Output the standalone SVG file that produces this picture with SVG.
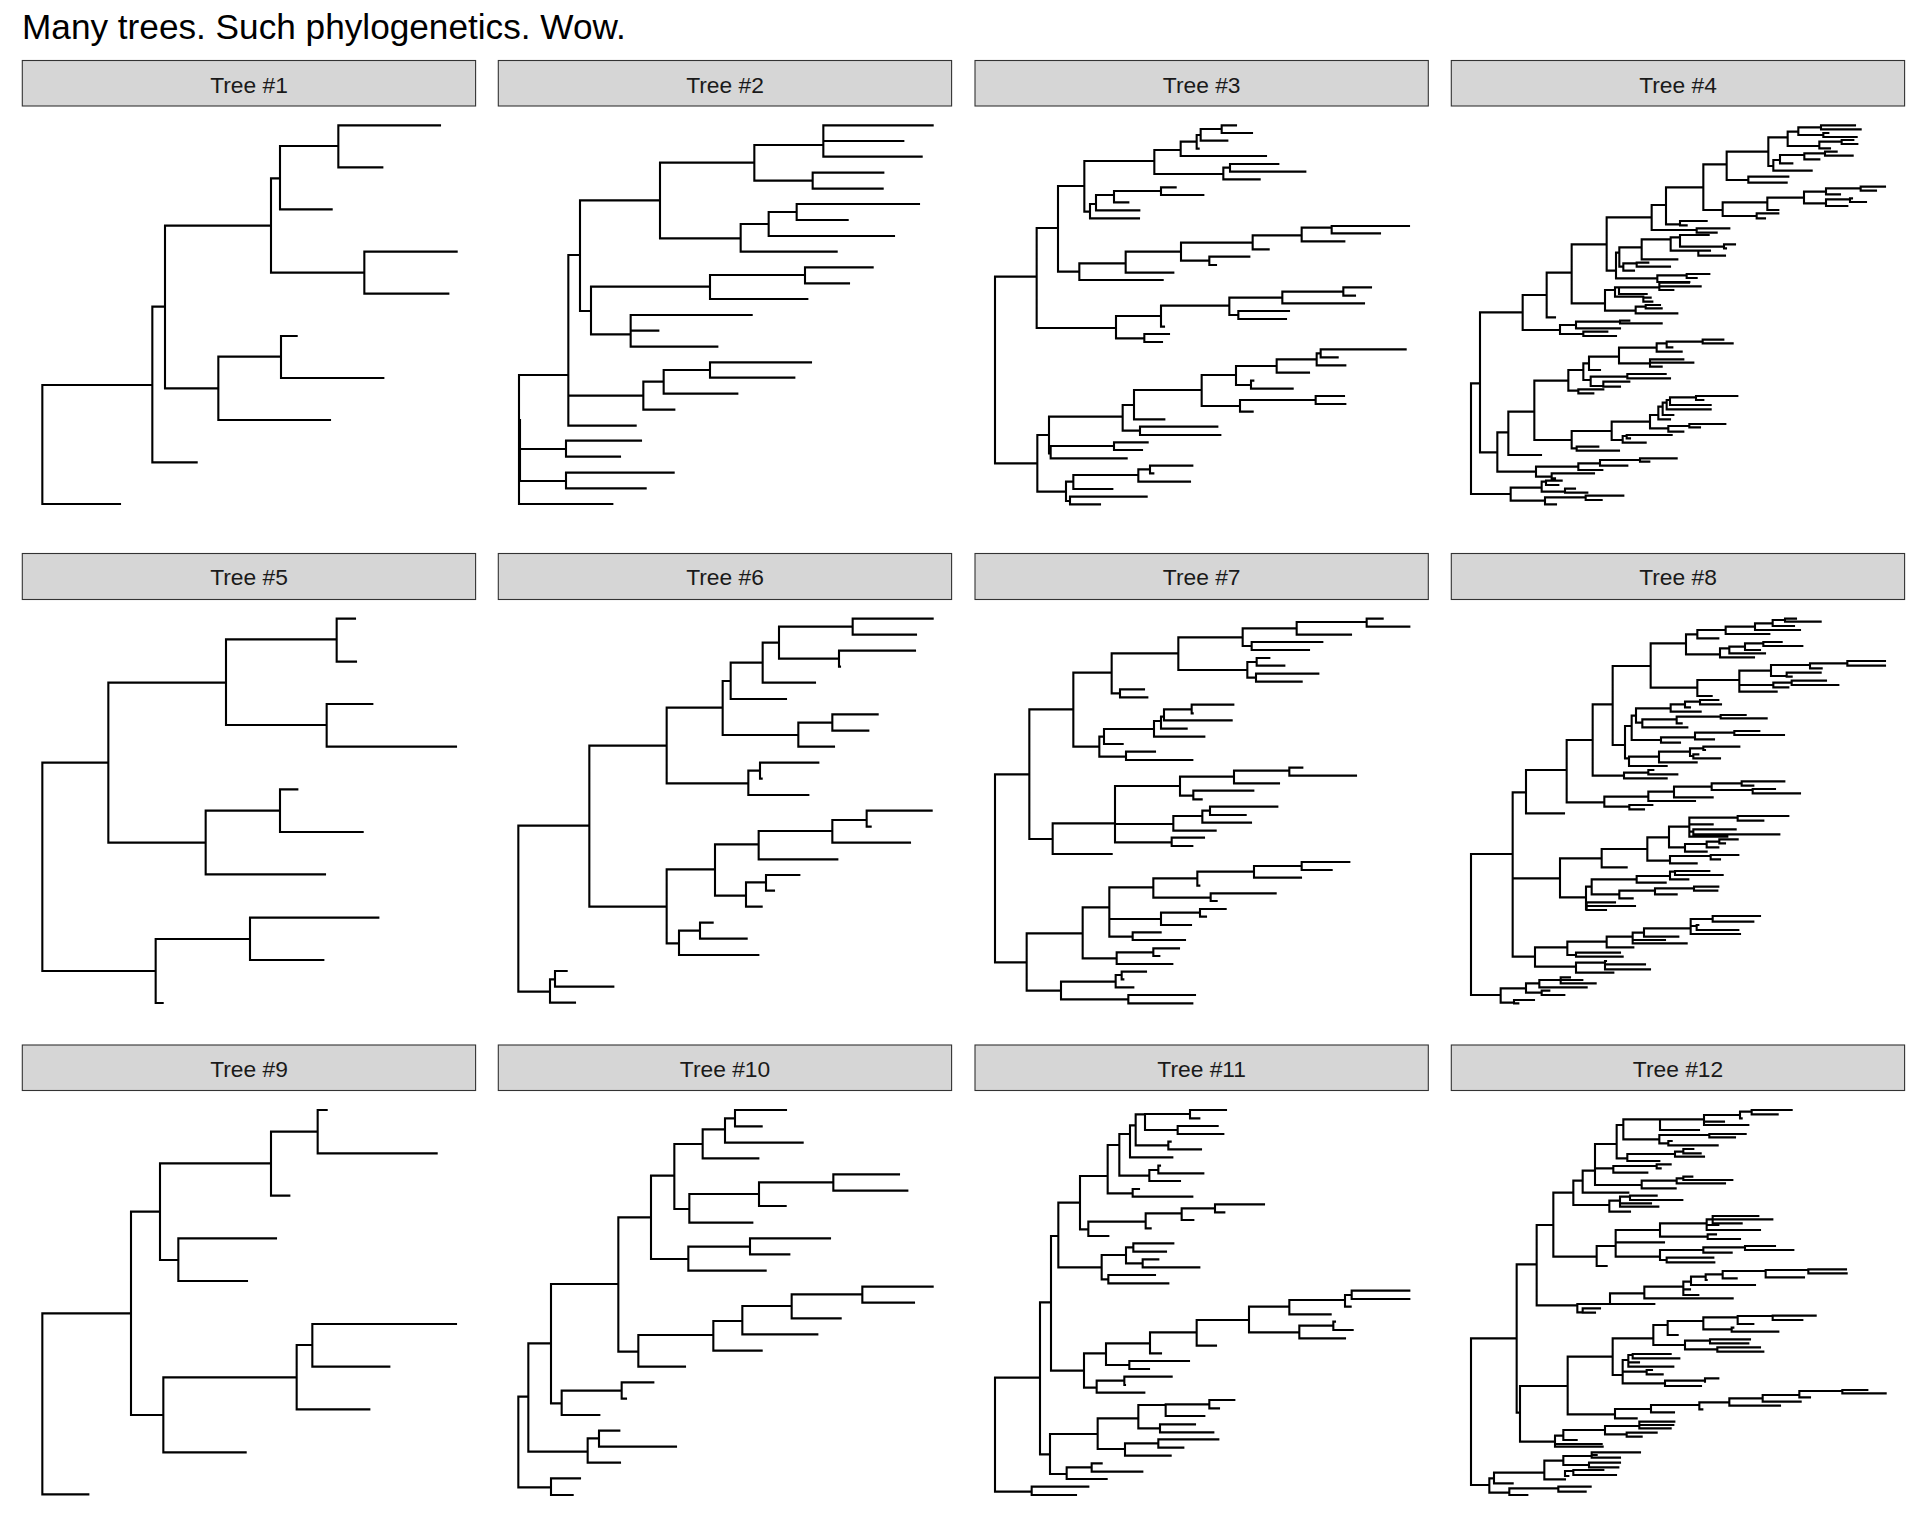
<svg xmlns="http://www.w3.org/2000/svg" width="1920" height="1536" viewBox="0 0 1920 1536">
<style>
.strip rect{fill:#d6d6d6;stroke:#333333;stroke-width:1.1}
.strip text{font-family:"Liberation Sans",Arial,sans-serif;font-size:22.8px;fill:#1a1a1a;text-anchor:middle}
.br{fill:none;stroke:#000;stroke-width:6.3;stroke-linecap:square}
.title{font-family:"Liberation Sans",Arial,sans-serif;font-size:35.2px;fill:#000}
</style>
<rect width="1920" height="1536" fill="#fff"/>
<text class="title" x="22" y="39">Many trees. Such phylogenetics. Wow.</text>

<g id="panel1">
<g class="strip"><rect x="22.3" y="60.5" width="453.3" height="45.5"/><text x="249" y="92.7">Tree #1</text></g>
<g transform="translate(0,0) scale(0.333333)"><path class="br" d="M127 1155V1512M127 1512H360M127 1155H457M457 920V1387M457 1387H590M457 920H495M495 677V1165M495 1165H655M495 677H813M655 1070V1260M655 1260H990M655 1070H843M843 1008V1134M843 1008H890M843 1134H1150M813 535V818M813 535H840M813 818H1093M1093 755V881M1093 755H1370M1093 881H1345M840 438V628M840 628H995M840 438H1015M1015 376V502M1015 376H1320M1015 502H1147"/></g>
</g>

<g id="panel2">
<g class="strip"><rect x="498.3" y="60.5" width="453.3" height="45.5"/><text x="725" y="92.7">Tree #2</text></g>
<g transform="translate(480,0) scale(0.333333)"><path class="br" d="M117 1125V1512M117 1125H265M117 1512H397M120 1260V1443M120 1347H258M120 1443H258M258 1322V1370M258 1322H483M258 1370H420M258 1418V1465M258 1418H581M258 1465H497M265 765V1277M265 1277H467M265 1187H490M265 765H300M490 1145V1229M490 1229H583M490 1145H551M551 1110V1181M551 1181H772M551 1110H690M690 1087V1133M690 1087H993M690 1133H943M300 601V933M300 933H333M300 601H540M333 860V1003M333 860H690M333 1003H452M452 945V1040M452 945H815M452 992H535M452 1040H712M690 825V897M690 825H975M690 897H982M975 802V850M975 802H1178M975 850H1107M540 488V715M540 488H823M540 715H782M782 672V755M782 755H1070M782 672H866M866 636V708M866 708H1242M866 636H950M950 612V660M950 612H1317M950 660H1103M823 435V542M823 542H998M823 435H1030M998 518V566M998 518H1210M998 566H1208M1030 376V470M1030 376H1358M1030 423H1270M1030 470H1325"/></g>
</g>

<g id="panel3">
<g class="strip"><rect x="975" y="60.5" width="453.3" height="45.5"/><text x="1201.7" y="92.7">Tree #3</text></g>
<g transform="translate(960,0) scale(0.333333)"><path class="br" d="M105 830V1390M105 830H230M105 1390H232M230 684V984M230 684H294M230 984H468M294 558V815M294 558H373M294 815H358M373 483V635M373 483H583M373 635H390M583 450V522M583 450H662M583 522H790M662 425V468M662 468H918M662 425H710M710 405V446M710 446H716M710 405H722M722 387V422M722 387H785M722 422H802M785 376V399M785 376H828M785 399H876M790 503V538M790 538H899M790 503H810M810 492V515M810 492H955M810 515H1036M390 612V655M390 655H537M390 612H408M408 585V631M408 631H538M408 585H462M462 573V607M462 607H505M462 573H603M603 562V585M603 562H647M603 585H730M358 790V840M358 840H608M358 790H497M497 755V818M497 818H640M497 755H663M663 728V782M663 782H748M663 728H878M748 770V795M748 770H868M748 795H768M878 706V748M878 748H926M878 706H1025M1025 683V724M1025 724H1153M1025 683H1115M1115 678V700M1115 678H1347M1115 700H1260M468 948V1015M468 948H603M468 1015H553M553 1002V1026M553 1002H627M553 1026H606M603 917V980M603 980H612M603 917H808M808 893V945M808 893H967M808 945H835M835 933V957M835 933H987M835 957H978M967 875V910M967 910H1212M967 875H1150M1150 862V887M1150 862H1233M1150 887H1185M232 1305V1475M232 1305H267M232 1475H318M267 1250V1360M267 1250H488M267 1360H272M272 1338V1375M272 1375H500M272 1338H462M462 1327V1350M462 1327H563M462 1350H546M488 1215V1292M488 1215H522M488 1292H540M540 1280V1305M540 1280H772M540 1305H781M522 1170V1258M522 1258H613M522 1170H725M725 1125V1218M725 1125H828M725 1218H840M840 1200V1235M840 1235H878M840 1200H1067M1067 1188V1212M1067 1188H1152M1067 1212H1156M828 1098V1155M828 1098H950M828 1155H873M873 1142V1166M873 1166H998M873 1142H880M950 1078V1118M950 1118H1047M950 1078H1070M1070 1060V1096M1070 1096H1156M1070 1060H1082M1082 1048V1072M1082 1048H1337M1082 1072H1133M318 1445V1503M318 1445H340M318 1503H330M340 1425V1467M340 1467H457M340 1425H535M535 1408V1445M535 1445H690M535 1408H570M570 1397V1420M570 1397H697M570 1420H580M330 1490V1513M330 1490H560M330 1513H420"/></g>
</g>

<g id="panel4">
<g class="strip"><rect x="1451.3" y="60.5" width="453.3" height="45.5"/><text x="1678" y="92.7">Tree #4</text></g>
<g transform="translate(1440,0) scale(0.333333)"><path class="br" d="M93 1150V1482M93 1150H120M93 1482H212M120 937V1357M120 937H248M120 1357H172M248 885V990M248 885H320M248 990H360M320 818V952M320 952H345M320 818H395M395 733V910M395 733H500M395 910H495M500 652V812M500 652H635M500 812H528M635 615V690M635 615H678M635 690H770M770 685V698M770 685H868M770 698H830M678 562V673M678 562H790M678 673H720M720 663V676M720 663H800M720 676H740M790 493V630M790 493H860M790 630H848M848 607V648M848 648H950M848 607H982M982 593V630M982 630H1015M982 593H1092M1092 575V610M1092 575H1158M1092 610H1158M1158 565V583M1158 565H1262M1158 583H1200M1262 560V572M1262 560H1335M1262 572H1308M1158 598V618M1158 598H1230M1158 618H1222M1230 595V606M1230 595H1236M1230 606H1278M950 640V655M950 640H1015M950 655H975M860 455V540M860 455H985M860 540H925M925 530V548M925 530H1045M925 548H1040M985 412V498M985 412H1043M985 498H1000M1043 395V438M1043 395H1075M1043 438H1138M1075 382V405M1075 382H1143M1075 405H1150M1143 376V388M1143 376H1245M1143 388H1262M1150 399V411M1150 399H1165M1150 411H1250M1138 425V445M1138 425H1205M1138 445H1170M1205 420V432M1205 420H1240M1205 432H1252M1000 480V512M1000 480H1020M1000 512H1115M1020 465V490M1020 465H1093M1020 490H1057M1093 460V478M1093 460H1155M1093 478H1138M1155 455V467M1155 455H1190M1155 467H1238M528 758V835M528 758H538M528 835H652M652 826V846M652 826H740M652 846H748M740 822V834M740 822H808M740 834H770M538 742V800M538 742H605M538 800H550M550 790V812M550 790H590M550 812H582M590 788V800M590 788H625M590 800H690M605 718V778M605 778H712M605 718H692M692 712V752M692 712H720M692 752H775M720 705V740M720 705H806M720 740H852M852 733V745M852 733H885M852 745H858M775 752V767M775 752H810M775 767H855M495 870V932M495 870H525M495 932H587M525 862V890M525 862H537M525 890H610M537 862V882M537 862H658M537 882H620M658 848V870M658 848H747M658 859H782M658 870H700M610 893V905M610 893H632M610 905H637M587 920V940M587 920H617M587 940H712M617 915V925M617 915H660M617 925H665M360 975V1002M360 975H408M360 1002H430M408 965V985M408 965H540M408 985H540M540 962V970M540 962H568M540 970H665M430 995V1008M430 995H502M430 1008H528M172 1297V1415M172 1297H205M172 1415H288M205 1235V1365M205 1365H303M205 1235H283M283 1142V1320M283 1142H385M283 1320H395M385 1110V1172M385 1110H430M385 1172H415M415 1168V1180M415 1168H490M415 1180H460M430 1090V1140M430 1090H447M430 1140H452M452 1130V1158M452 1130H562M452 1158H490M562 1122V1135M562 1122H677M562 1135H690M490 1145V1160M490 1145H568M490 1160H540M447 1070V1110M447 1110H480M447 1070H537M537 1043V1090M537 1043H650M537 1090H630M650 1030V1055M650 1030H680M650 1055H725M680 1025V1042M680 1025H788M680 1042H697M788 1019V1030M788 1019H850M788 1030H878M630 1078V1100M630 1078H730M630 1088H760M630 1100H665M395 1293V1345M395 1293H515M395 1345H410M410 1340V1352M410 1340H475M410 1352H537M515 1265V1320M515 1265H630M515 1320H548M548 1308V1328M548 1308H560M548 1328H617M560 1305V1315M560 1305H695M560 1315H570M630 1245V1285M630 1245H655M630 1285H685M685 1278V1295M685 1278H748M685 1295H730M748 1272V1282M748 1272H856M748 1282H780M655 1220V1258M655 1258H690M655 1220H668M668 1208V1245M668 1245H700M668 1208H680M680 1200V1228M680 1200H690M680 1228H812M690 1192V1215M690 1192H768M690 1215H812M768 1188V1200M768 1188H892M768 1200H790M288 1400V1430M288 1400H415M288 1430H335M415 1390V1410M415 1390H480M415 1410H487M480 1380V1397M480 1380H600M480 1397H562M600 1375V1385M600 1375H710M600 1385H628M335 1420V1435M335 1420H462M335 1435H345M212 1463V1502M212 1463H305M212 1502H315M305 1445V1475M305 1445H318M305 1475H375M318 1442V1455M318 1442H365M318 1455H355M375 1466V1478M375 1466H405M375 1478H442M315 1492V1513M315 1492H437M315 1513H348M437 1487V1500M437 1487H550M437 1500H485"/></g>
</g>

<g id="panel5">
<g class="strip"><rect x="22.3" y="553.5" width="453.3" height="46"/><text x="249" y="584.5">Tree #5</text></g>
<g transform="translate(0,540) scale(0.333333)"><path class="br" d="M127 668V1293M127 668H325M127 1293H467M325 428V908M325 428H678M325 908H617M678 298V555M678 298H1010M678 555H980M1010 236V365M1010 236H1065M1010 365H1068M980 492V620M980 492H1117M980 620H1368M617 812V1003M617 812H840M617 1003H975M840 748V876M840 748H892M840 876H1088M467 1197V1389M467 1197H750M467 1389H488M750 1133V1260M750 1133H1135M750 1260H970"/></g>
</g>

<g id="panel6">
<g class="strip"><rect x="498.3" y="553.5" width="453.3" height="46"/><text x="725" y="584.5">Tree #6</text></g>
<g transform="translate(480,540) scale(0.333333)"><path class="br" d="M115 857V1355M115 857H328M115 1355H210M210 1318V1388M210 1388H285M210 1318H225M225 1293V1340M225 1293H260M225 1340H400M328 617V1100M328 617H560M328 1100H560M560 503V730M560 503H728M560 730H805M805 692V765M805 765H985M805 692H840M840 668V716M840 668H1015M840 716H845M728 423V585M728 423H752M728 585H955M955 548V620M955 620H1062M955 548H1057M1057 523V572M1057 523H1193M1057 572H1165M752 368V477M752 477H918M752 368H848M848 308V428M848 428H1005M848 308H897M897 260V356M897 260H1118M897 356H1077M1118 236V284M1118 236H1358M1118 284H1308M1077 332V380M1077 332H1305M1077 380H1080M560 988V1210M560 988H705M560 1210H597M597 1172V1245M597 1245H835M597 1172H660M660 1148V1196M660 1148H698M660 1196H800M705 913V1067M705 913H836M705 1067H798M798 1027V1100M798 1100H845M798 1027H858M858 1005V1052M858 1005H958M858 1052H882M836 873V958M836 958H1072M836 873H1057M1057 840V908M1057 908H1290M1057 840H1160M1160 812V860M1160 812H1355M1160 860H1172"/></g>
</g>

<g id="panel7">
<g class="strip"><rect x="975" y="553.5" width="453.3" height="46"/><text x="1201.7" y="584.5">Tree #7</text></g>
<g transform="translate(960,540) scale(0.333333)"><path class="br" d="M105 703V1267M105 703H208M105 1267H200M208 508V897M208 508H340M208 897H278M278 850V942M278 942H455M278 850H465M465 738V907M465 738H660M465 852H640M465 907H635M635 893V918M635 893H732M635 918H697M640 828V872M640 872H767M640 828H727M727 812V848M727 848H873M727 812H750M750 800V825M750 800H952M750 825H857M660 710V767M660 710H822M660 767H700M700 752V778M700 752H880M700 778H725M822 692V730M822 730H957M822 692H988M988 683V707M988 683H1027M988 707H1188M340 398V620M340 398H455M340 620H418M418 590V650M418 650H498M418 590H432M498 635V660M498 635H585M498 660H697M432 567V612M432 612H488M432 567H582M582 543V590M582 590H733M582 543H603M603 530V566M603 566H680M603 530H612M612 508V541M612 541H815M612 508H695M695 494V520M695 494H820M695 520H698M455 340V460M455 340H655M455 460H480M480 448V472M480 448H552M480 472H562M655 292V390M655 292H848M655 390H862M862 366V413M862 366H890M862 413H888M890 354V377M890 354H928M890 377H973M888 401V425M888 401H1075M888 425H1025M848 265V318M848 265H1010M848 318H875M875 306V330M875 306H1087M875 330H1047M1010 246V284M1010 284H1173M1010 246H1220M1220 236V260M1220 236H1268M1220 260H1348M200 1180V1352M200 1180H368M200 1352H303M303 1325V1378M303 1325H467M303 1378H505M505 1365V1390M505 1365H705M505 1390H697M467 1305V1342M467 1342H520M467 1305H485M485 1295V1318M485 1295H558M485 1318H490M368 1102V1255M368 1102H448M368 1255H470M470 1237V1272M470 1272H637M470 1237H580M580 1225V1248M580 1225H657M580 1248H598M448 1042V1190M448 1042H580M448 1137H603M448 1190H518M518 1177V1200M518 1177H602M518 1200H675M603 1118V1155M603 1155H693M603 1118H720M720 1107V1130M720 1107H797M720 1130H738M580 1015V1073M580 1015H712M580 1073H752M752 1060V1083M752 1060H947M752 1083H770M712 995V1037M712 1037H718M712 995H882M882 978V1013M882 1013H1023M882 978H1025M1025 966V990M1025 966H1168M1025 990H1115"/></g>
</g>

<g id="panel8">
<g class="strip"><rect x="1451.3" y="553.5" width="453.3" height="46"/><text x="1678" y="584.5">Tree #8</text></g>
<g transform="translate(1440,540) scale(0.333333)"><path class="br" d="M93 942V1365M93 942H218M93 1365H182M218 757V1250M218 757H258M218 1015H360M218 1250H285M258 690V820M258 820H372M258 690H380M380 600V787M380 600H458M380 787H493M493 770V800M493 800H568M493 770H625M568 795V808M568 795H637M568 808H612M625 755V783M625 783H765M625 755H702M702 740V772M702 772H818M702 740H815M815 730V750M815 730H905M815 750H938M905 724V737M905 724H1033M905 737H940M938 747V760M938 747H1005M938 760H1080M458 493V707M458 493H518M458 707H552M552 698V715M552 698H625M552 715H680M625 690V703M625 690H640M625 703H712M518 378V615M518 378H632M518 615H555M632 310V443M632 310H738M632 443H772M738 283V343M738 283H772M738 343H840M772 270V295M772 295H835M772 270H857M857 260V282M857 260H945M857 282H988M945 250V270M945 250H998M945 270H1080M998 240V258M998 240H1035M998 258H1062M1035 236V245M1035 236H1068M1035 245H1142M840 325V352M840 352H942M840 325H868M868 320V340M868 320H915M868 340H975M915 310V330M915 310H970M915 330H960M970 306V318M970 306H1025M970 318H1087M772 420V468M772 468H815M772 420H898M898 392V455M898 392H993M898 435H1000M898 455H1010M1000 428V442M1000 428H1055M1000 442H1045M1055 422V435M1055 422H1158M1055 435H1195M993 375V408M993 375H1110M993 408H1040M1110 370V385M1110 370H1222M1110 385H1145M1222 363V377M1222 363H1335M1222 377H1335M1040 398V410M1040 398H1142M1040 410H1055M555 558V655M555 558H575M555 655H567M567 650V678M567 678H680M567 650H657M657 635V667M657 667H770M657 635H750M750 625V648M750 625H790M750 648H760M790 620V630M790 620H898M790 630H795M760 643V655M760 643H775M760 655H840M575 527V600M575 600H663M575 527H588M663 592V608M663 608H720M663 592H765M765 578V598M765 598H822M765 578H883M883 573V585M883 573H958M883 585H1032M588 505V548M588 505H692M588 548H607M607 538V562M607 562H742M607 538H710M710 530V550M710 530H842M710 550H725M842 525V535M842 525H917M842 535H980M692 493V515M692 515H782M692 493H735M735 485V502M735 485H780M735 502H750M780 480V493M780 480H835M780 493H843M360 955V1072M360 955H485M360 1072H438M485 927V982M485 982H560M485 927H622M622 892V962M622 892H687M622 962H690M690 948V970M690 970H770M690 948H812M812 945V958M812 945H895M812 958H840M687 860V922M687 860H748M687 922H735M735 912V935M735 935H800M735 912H800M800 905V922M800 905H838M800 922H835M838 898V910M838 898H893M838 910H855M748 833V890M748 833H893M748 853H818M748 875H760M748 890H862M893 828V842M893 828H1045M893 842H970M760 868V883M760 868H887M760 883H1018M438 1040V1108M438 1040H455M438 1108H440M440 1087V1110M440 1087H525M440 1098H585M440 1110H498M455 1018V1063M455 1018H590M455 1063H538M538 1052V1075M538 1075H578M538 1052H645M645 1045V1063M645 1045H762M645 1063H710M762 1040V1052M762 1040H835M762 1052H832M590 1008V1028M590 1028H677M590 1008H690M690 995V1018M690 995H705M690 1018H745M705 993V1005M705 993H808M705 1005H848M285 1222V1280M285 1222H382M285 1280H408M382 1205V1245M382 1245H408M382 1205H500M408 1238V1250M408 1238H540M408 1250H548M500 1190V1222M500 1222H580M500 1190H578M578 1178V1210M578 1178H612M578 1200H675M578 1210H740M612 1165V1190M612 1165H752M612 1190H715M752 1137V1182M752 1137H818M752 1158H770M752 1182H900M818 1128V1145M818 1128H960M818 1145H940M770 1155V1170M770 1155H775M770 1170H895M408 1268V1298M408 1268H495M408 1298H520M495 1263V1288M495 1263H498M495 1273H615M495 1288H630M182 1345V1388M182 1345H258M182 1388H222M222 1380V1390M222 1380H282M222 1390H235M258 1330V1358M258 1330H298M258 1358H305M305 1352V1365M305 1352H328M305 1365H373M298 1320V1342M298 1320H362M298 1342H440M362 1312V1330M362 1312H390M362 1320H427M362 1330H467"/></g>
</g>

<g id="panel9">
<g class="strip"><rect x="22.3" y="1045" width="453.3" height="45.5"/><text x="249" y="1076.7">Tree #9</text></g>
<g transform="translate(0,1030) scale(0.333333)"><path class="br" d="M127 850V1393M127 850H393M127 1393H265M393 545V1155M393 545H480M393 1155H490M480 400V690M480 400H813M480 690H535M535 625V753M535 625H828M535 753H741M813 305V497M813 305H953M813 497H868M953 240V370M953 240H980M953 370H1310M490 1042V1267M490 1042H890M490 1267H737M890 945V1138M890 945H937M890 1138H1108M937 882V1010M937 882H1368M937 1010H1168"/></g>
</g>

<g id="panel10">
<g class="strip"><rect x="498.3" y="1045" width="453.3" height="45.5"/><text x="725" y="1076.7">Tree #10</text></g>
<g transform="translate(480,1030) scale(0.333333)"><path class="br" d="M115 1100V1372M115 1100H145M115 1372H213M213 1345V1395M213 1345H300M213 1395H278M145 940V1265M145 940H213M145 1265H323M323 1225V1298M323 1298H420M323 1225H357M357 1202V1250M357 1202H418M357 1250H588M213 762V1120M213 762H415M213 1120H245M245 1082V1155M245 1155H358M245 1082H425M425 1057V1106M425 1057H520M425 1106H438M415 562V965M415 562H513M415 965H475M475 915V1010M475 1010H615M475 915H700M700 873V962M700 962H845M700 873H787M787 828V913M787 913H1012M787 828H935M935 793V865M935 865H1082M935 793H1147M1147 770V818M1147 770H1358M1147 818H1302M513 437V687M513 437H583M513 687H625M625 650V722M625 722H857M625 650H810M810 625V673M810 625H1050M810 673H928M583 342V537M583 342H668M583 537H628M628 492V578M628 578H817M628 492H837M837 457V528M837 528H917M837 457H1060M1060 433V482M1060 433H1257M1060 482H1282M668 298V385M668 385H835M668 298H735M735 265V338M735 338H968M735 265H765M765 240V289M765 240H918M765 289H845"/></g>
</g>

<g id="panel11">
<g class="strip"><rect x="975" y="1045" width="453.3" height="45.5"/><text x="1201.7" y="1076.7">Tree #11</text></g>
<g transform="translate(960,1030) scale(0.333333)"><path class="br" d="M105 1043V1385M105 1043H240M105 1385H215M215 1370V1395M215 1370H385M215 1395H348M240 817V1273M240 817H273M240 1273H270M270 1212V1332M270 1212H413M270 1332H320M320 1312V1347M320 1347H440M320 1312H395M395 1300V1325M395 1300H425M395 1325H547M413 1165V1257M413 1165H535M413 1257H495M495 1240V1277M495 1277H632M495 1240H595M595 1228V1253M595 1228H775M595 1253H670M535 1125V1195M535 1125H617M535 1195H600M600 1183V1207M600 1183H705M600 1207H760M617 1123V1158M617 1158H733M617 1123H748M748 1110V1135M748 1110H823M748 1135H777M273 618V1022M273 618H295M273 1022H372M372 970V1073M372 970H438M372 1073H410M410 1052V1088M410 1088H553M410 1052H493M493 1040V1065M493 1040H635M493 1065H495M438 940V1005M438 940H570M438 1005H508M508 993V1017M508 993H687M508 1017H567M570 907V970M570 970H603M570 907H710M710 870V947M710 947H768M710 870H867M867 830V907M867 830H988M867 907H1018M1018 887V925M1018 925H1155M1018 887H1120M1120 875V900M1120 875H1125M1120 900H1178M988 810V853M988 853H1112M988 810H1155M1155 795V830M1155 830H1172M1155 795H1175M1175 782V807M1175 782H1348M1175 807H1348M295 518V712M295 518H360M295 712H425M425 675V748M425 675H498M425 748H445M445 735V760M445 735H585M445 760H625M498 652V700M498 652H520M498 700H548M520 640V665M520 640H640M520 665H618M548 688V712M548 688H595M548 712H718M360 438V598M360 438H443M360 598H385M385 575V618M385 618H445M385 575H557M557 550V595M557 595H572M557 550H665M665 535V570M665 570H700M665 535H765M765 523V547M765 523H912M765 547H793M443 345V490M443 345H478M443 490H518M518 477V500M518 477H537M518 500H697M478 312V437M478 312H510M478 437H568M568 420V453M568 453H660M568 420H595M595 407V430M595 407H600M595 430H730M510 286V382M510 286H527M510 382H637M527 253V346M527 253H555M527 346H625M625 335V358M625 335H632M625 358H723M555 252V300M555 252H690M555 300H653M653 288V312M653 288H773M653 312H790M690 240V265M690 240H798M690 265H718"/></g>
</g>

<g id="panel12">
<g class="strip"><rect x="1451.3" y="1045" width="453.3" height="45.5"/><text x="1678" y="1076.7">Tree #12</text></g>
<g transform="translate(1440,1030) scale(0.333333)"><path class="br" d="M93 925V1365M93 925H230M93 1365H148M148 1345V1388M148 1345H162M148 1388H208M162 1328V1360M162 1360H218M162 1328H313M313 1292V1348M313 1292H370M313 1348H375M370 1278V1305M370 1278H455M370 1305H447M455 1267V1283M455 1267H600M455 1275H470M455 1283H540M447 1298V1312M447 1298H540M447 1312H535M375 1323V1338M375 1323H400M375 1338H385M400 1320V1335M400 1320H490M400 1335H528M208 1375V1395M208 1395H262M208 1375H355M355 1370V1385M355 1370H452M355 1385H437M230 703V1148M230 703H290M230 1148H240M240 1068V1235M240 1068H383M240 1235H345M345 1217V1250M345 1250H488M345 1217H370M345 1242H485M370 1200V1230M370 1230H410M370 1200H495M495 1188V1213M495 1188H598M495 1213H560M598 1175V1195M598 1175H703M598 1185H700M598 1195H692M560 1208V1220M560 1208H650M560 1220H605M383 980V1153M383 980H518M383 1153H525M525 1137V1165M525 1165H590M525 1137H633M633 1125V1147M633 1147H702M633 1125H778M778 1117V1138M778 1138H787M778 1117H868M868 1105V1127M868 1127H1020M868 1105H968M968 1095V1115M968 1115H1082M968 1095H1078M1078 1083V1102M1078 1083H1207M1078 1102H1110M1207 1080V1090M1207 1080H1282M1207 1090H1337M518 925V1035M518 925H640M518 1035H548M548 990V1060M548 1060H675M548 990H565M548 1025H620M620 1020V1033M620 1020H636M620 1033H668M675 1052V1068M675 1052H795M675 1068H783M795 1045V1055M795 1045H835M565 975V1010M565 975H578M565 1010H700M565 997H597M578 972V985M578 972H692M578 985H718M640 885V945M640 885H683M640 945H735M735 932V958M735 932H810M735 958H832M810 928V940M810 928H930M810 940H925M832 952V965M832 952H960M832 965H970M683 873V915M683 915H713M683 873H790M790 862V898M790 862H893M790 898H875M893 858V882M893 858H998M893 882H940M998 857V870M998 857H1127M998 870H1087M875 893V905M875 893H880M875 905H1015M290 585V826M290 585H340M290 826H412M412 822V847M412 847H428M412 822H510M428 835V848M428 835H480M428 848H465M510 790V822M510 822H643M510 790H613M613 770V805M613 805H878M613 770H730M730 755V795M730 755H753M730 778H750M730 795H775M753 740V765M753 740H797M753 765H945M797 733V750M797 733H848M797 750H800M848 723V745M848 723H977M848 745H890M977 720V742M977 720H1105M977 742H1092M1105 718V730M1105 718H1218M1105 730H1220M340 488V680M340 488H400M340 680H470M470 648V708M470 648H527M470 708H500M527 600V680M527 600H660M527 637H672M527 680H660M660 660V690M660 660H790M660 690H680M790 652V668M790 652H915M790 668H875M915 648V660M915 648H1005M915 660H1060M680 683V697M680 683H820M680 697H823M660 580V620M660 580H800M660 620H803M803 613V627M803 613H828M803 627H900M800 568V600M800 568H818M800 585H835M800 600H960M818 558V580M818 558H955M818 568H997M818 580H905M400 452V525M400 452H428M400 525H508M508 512V545M508 512H540M508 545H570M540 500V530M540 500H570M540 520H633M540 530H655M570 497V510M570 497H650M570 510H727M428 422V488M428 422H465M428 488H565M465 342V465M465 342H530M465 415H520M465 465H605M605 452V475M605 475H707M605 452H710M710 445V460M710 445H730M710 460H855M730 440V450M730 440H757M730 450H877M520 408V428M520 408H650M520 428H622M650 403V415M650 403H692M650 415H662M530 285V385M530 285H550M530 385H562M562 372V393M562 393H658M562 372H705M705 365V380M705 365H730M705 380H792M730 357V370M730 357H760M730 370H782M550 268V328M550 268H660M550 328H658M658 315V340M658 315H808M658 340H685M808 312V322M808 312H917M808 322H885M685 333V346M685 333H695M685 346H833M660 268V300M660 268H792M660 300H777M792 255V285M792 255H900M792 275H852M792 285H925M900 245V265M900 245H935M900 265H905M935 240V253M935 240H1055M935 253H1013"/></g>
</g>
</svg>
